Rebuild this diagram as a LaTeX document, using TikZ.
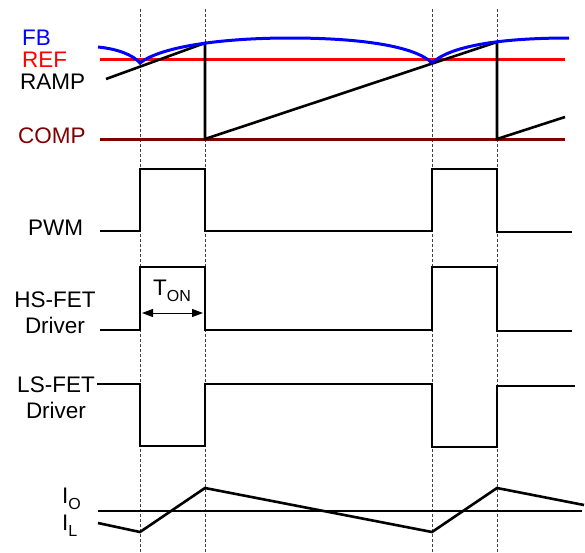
\documentclass[tikz,border=0pt]{standalone}
\usepackage{fontspec}
\setmainfont{Liberation Sans}
\usetikzlibrary{calc, arrows.meta}
\definecolor{fbblue}{RGB}{0,0,255}
\definecolor{refred}{RGB}{255,0,0}
\definecolor{compred}{RGB}{128,0,0}
\newcommand{\lowtxt}[2]{#1\raisebox{-0.25em}{\fontsize{16}{16}\selectfont #2}}

\begin{document}
\begin{tikzpicture}[x=1pt, y=-1pt, font=\fontsize{22.5}{26}\selectfont,
	lbl/.style={inner sep=0pt},
	wave/.style={line width=2.6pt, line join=miter},
	trace/.style={line width=3pt},
	guide/.style={densely dashed, line width=0.8pt, black!75}]
	\useasboundingbox (0,0) rectangle (585,552);
	
	% switching instants
	\foreach \t in {140,205,432,497}
		\draw[guide] (\t,9) -- (\t,552);
	
	\node (fb) [lbl, text=fbblue, anchor=west] at (22,38) {FB};
	\node (ref) [lbl, text=refred, anchor=west] at (22,60) {REF};
	\node (ramp) [lbl, anchor=west] at (20,82) {RAMP};
	\node (comp) [lbl, text=compred, anchor=west] at (18,136) {COMP};
	\node (pwm) [lbl, anchor=west] at (28,228) {PWM};
	\node (hs) [lbl, align=center] at (55,313) {HS-FET\\Driver};
	\node (ls) [lbl, align=center] at (56,398) {LS-FET\\Driver};
	\node (io) [lbl, anchor=west] at (62,499) {\lowtxt{I}{O}};
	\node (il) [lbl, anchor=west] at (62,526) {\lowtxt{I}{L}};
	
	\draw[trace, refred] (100,59) -- (565,59);
	\draw[trace, compred] (100,139) -- (565,139);
	\draw[wave] (106,79) -- (205,43) -- (205,139) -- (497,42) -- (497,139) -- (565,117);
	\draw[trace, fbblue] (98,47) .. controls (118,49) and (133,55) .. (140,63)
		.. controls (160,47) and (220,38) .. (290,38)
		.. controls (360,38) and (415,46) .. (432,63)
		.. controls (450,46) and (500,38) .. (569,38);
	
	\draw[wave] (100,231) -- (140,231) -- (140,169) -- (205,169) -- (205,231) -- (432,231)
		-- (432,169) -- (497,169) -- (497,232) -- (572,232);
	\draw[wave] (100,330) -- (140,330) -- (140,267) -- (205,267) -- (205,330) -- (432,330)
		-- (432,267) -- (497,267) -- (497,331) -- (572,331);
	\draw[wave] (97,384) -- (140,384) -- (140,446) -- (205,446) -- (205,384) -- (432,384)
		-- (432,447) -- (497,447) -- (497,386) -- (575,386);
	
	\node (ton) [lbl] at (172,291) {\lowtxt{T}{ON}};
	\coordinate (ton-l) at (142,313);
	\coordinate (ton-r) at (203,313);
	\draw[{Triangle[length=11pt,width=8pt]}-{Triangle[length=11pt,width=8pt]}, line width=1pt] (ton-l) -- (ton-r);
	
	\draw[wave] (98,511) -- (582,511);
	\draw[wave] (98,523) -- (140,532) -- (205,488) -- (432,532) -- (497,488) -- (584,505);
\end{tikzpicture}
\end{document}
